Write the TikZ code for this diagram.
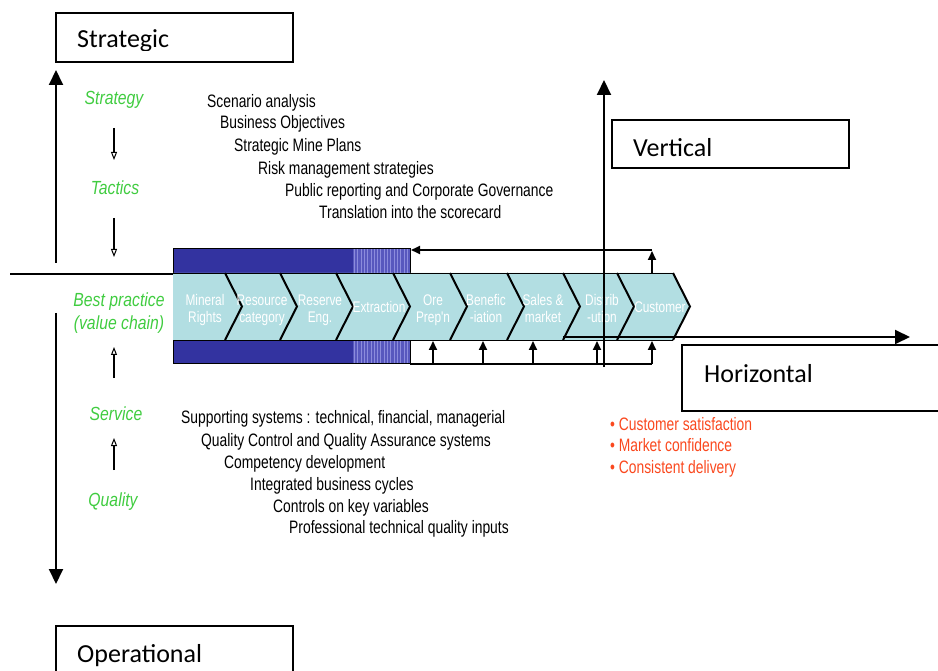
\documentclass[tikz,border=0pt]{standalone}
\usepackage{fontspec}
\setmainfont{Liberation Sans}
\newfontfamily\narrowsans[FakeStretch=0.77]{Liberation Sans}
\newfontfamily\levelsans[FakeStretch=0.83]{Liberation Sans}
\newfontfamily\boxfont{Carlito}
\usetikzlibrary{arrows.meta}

\definecolor{labelgreen}{RGB}{64,204,64}
\definecolor{outred}{RGB}{250,72,30}
\definecolor{chevfill}{RGB}{178,222,226}
\definecolor{bandblue}{RGB}{51,51,160}
\definecolor{stripeblue}{RGB}{88,88,190}
\definecolor{stripelight}{RGB}{140,140,220}

\tikzset{
  levelbox/.style={draw, line width=1.6pt},
  boxtext/.style={font=\boxfont\fontsize{26}{30}\selectfont, anchor=base west, inner sep=0pt},
  axis/.style={line width=2pt, -{Triangle[width=14pt,length=15pt]}},
  listtext/.style={font=\narrowsans\fontsize{18}{22}\selectfont, anchor=base west, inner sep=0pt},
  redtext/.style={listtext, text=outred},
  greentext/.style={font=\levelsans\itshape\fontsize{19}{22}\selectfont, text=labelgreen, anchor=base, inner sep=0pt},
  steparrow/.style={line width=2.2pt, -{Triangle[open, width=6pt, length=8pt, line width=1pt]}},
  feedback/.style={line width=1.8pt, -{Triangle[width=8pt,length=9pt]}},
  feedline/.style={line width=1.8pt},
  chevtext/.style={font=\narrowsans\fontsize{15.4}{17}\selectfont, text=white, align=center, inner sep=0pt},
}

\begin{document}
\begin{tikzpicture}[x=1pt,y=-1pt]
\useasboundingbox (0,0) rectangle (938,671);

% ---------- level boxes ----------
\draw[levelbox] (56,13) rectangle (293,62);
\begin{scope}
  \clip (57,14) rectangle (292,50.5);
  \node[boxtext] (strategic) at (77,48) {Strategic};
\end{scope}
\draw[levelbox] (56,626) rectangle (293,690);
\node[boxtext] (operational) at (77,662) {Operational};
\draw[levelbox] (612,120) rectangle (849,168);
\node[boxtext] (vertical) at (633,157) {Vertical};
\draw[levelbox] (682,345) rectangle (960,411);
\node[boxtext] (horizontal) at (704,382) {Horizontal};

% ---------- left axis ----------
\coordinate (axtopA) at (56,263);
\coordinate (axtopB) at (56,70);
\coordinate (axbotA) at (56,313);
\coordinate (axbotB) at (56,584);
\draw[axis] (axtopA) -- (axtopB);
\draw[axis] (axbotA) -- (axbotB);
\coordinate (divL) at (10,274);
\coordinate (divR) at (173,274);
\draw[line width=2pt] (divL) -- (divR);

% ---------- green levels ----------
\node[greentext] (strategy) at (114,105) {Strategy};
\node[greentext] (tactics) at (115,195) {Tactics};
\node[greentext] (best1) at (119,307) {Best practice};
\node[greentext] (best2) at (119,330) {(value chain)};
\node[greentext] (service) at (116,420) {Service};
\node[greentext] (quality) at (113,506) {Quality};

\coordinate (s1a) at (114,128); \coordinate (s1b) at (114,160);
\coordinate (s2a) at (114,218); \coordinate (s2b) at (114,257);
\coordinate (s3a) at (114,378); \coordinate (s3b) at (114,347);
\coordinate (s4a) at (114,470); \coordinate (s4b) at (114,438);
\draw[steparrow] (s1a) -- (s1b);
\draw[steparrow] (s2a) -- (s2b);
\draw[steparrow] (s3a) -- (s3b);
\draw[steparrow] (s4a) -- (s4b);

% ---------- strategic list ----------
\node[listtext] (t1) at (207,108) {Scenario analysis};
\node[listtext] (t2) at (220,129) {Business Objectives};
\node[listtext] (t3) at (234,152) {Strategic Mine Plans};
\node[listtext] (t4) at (258,175) {Risk management strategies};
\node[listtext] (t5) at (285,197) {Public reporting and Corporate Governance};
\node[listtext] (t6) at (319,219) {Translation into the scorecard};

% ---------- operational list ----------
\node[listtext] (b1) at (181,423) {Supporting systems : technical, financial, managerial};
\node[listtext] (b2) at (201,446) {Quality Control and Quality Assurance systems};
\node[listtext] (b3) at (224,468) {Competency development};
\node[listtext] (b4) at (250,490) {Integrated business cycles};
\node[listtext] (b5) at (273,512) {Controls on key variables};
\node[listtext] (b6) at (289,533) {Professional technical quality inputs};

% ---------- outcomes ----------
\node[redtext] (r1) at (610,430) {• Customer satisfaction};
\node[redtext] (r2) at (610,451) {• Market confidence};
\node[redtext] (r3) at (610,473) {• Consistent delivery};

% ---------- value chain band ----------
\fill[bandblue] (173,249) rectangle (353,273);
\fill[bandblue] (173,340) rectangle (353,364);
\fill[stripeblue] (353,249) rectangle (410,273);
\fill[stripeblue] (353,340) rectangle (410,364);
\foreach \k in {0,...,16} {
  \draw[stripelight, line width=0.9pt] ({354.5+3.3*\k},249) -- ++(0,24);
  \draw[stripelight, line width=0.9pt] ({354.5+3.3*\k},340) -- ++(0,24);
}
\draw[line width=1pt] (173,249) rectangle (410,364);

% chevrons
\def\chtop{273}\def\chbot{340}\def\chmid{306.5}\def\chd{17}
\fill[chevfill] (173,\chtop) -- (225,\chtop) -- (225+\chd,\chmid) -- (225,\chbot) -- (173,\chbot) -- cycle;
\draw[line width=0.8pt] (173,\chtop) -- (225,\chtop) (225,\chbot) -- (173,\chbot);
\foreach \s/\e in {225/280,280/336,336/393,393/450,450/507,507/563,563/617,617/673} {
  \fill[chevfill] (\s,\chtop) -- (\e,\chtop) -- (\e+\chd,\chmid) -- (\e,\chbot) -- (\s,\chbot) -- (\s+\chd,\chmid) -- cycle;
  \draw[line width=0.8pt] (\s,\chtop) -- (\e,\chtop) (\e,\chbot) -- (\s,\chbot);
}
\foreach \e in {225,280,336,393,450,507,563,617,673} {
  \draw[line width=2pt, line join=miter] (\e,\chtop) -- (\e+\chd,\chmid) -- (\e,\chbot);
}

\node[chevtext] (c1) at (205,310) {\vphantom{Ag}Mineral\\\vphantom{Ag}Rights};
\node[chevtext] (c2) at (262,310) {\vphantom{Ag}Resource\\\vphantom{Ag}category};
\node[chevtext] (c3) at (320,310) {\vphantom{Ag}Reserve\\\vphantom{Ag}Eng.};
\node[chevtext] (c4) at (379,308.5) {\vphantom{Ag}Extraction};
\node[chevtext] (c5) at (433,310) {\vphantom{Ag}Ore\\\vphantom{Ag}Prep'n};
\node[chevtext] (c6) at (486,310) {\vphantom{Ag}Benefic\\\vphantom{Ag}-iation};
\node[chevtext] (c7) at (543,310) {\vphantom{Ag}Sales \&\\\vphantom{Ag}market};
\node[chevtext] (c8) at (602,310) {\vphantom{Ag}Distrib\\\vphantom{Ag}-ution};
\node[chevtext] (c9) at (660,308.5) {\vphantom{Ag}Customer};

% ---------- feedback loops ----------
\coordinate (fbA) at (652,273);
\coordinate (fbB) at (652,251);
\coordinate (fbC) at (652,250);
\coordinate (fbD) at (411,250);
\draw[feedback] (fbA) -- (fbB);
\draw[feedback] (fbC) -- (fbD);

\coordinate (inL) at (410,364);
\coordinate (inR) at (652,364);
\draw[feedline] (inL) -- (inR);
\foreach \x in {433,483,533,597,652} {
  \coordinate (in\x) at (\x,364);
  \coordinate (up\x) at (\x,341);
  \draw[feedback] (in\x) -- (up\x);
}

% ---------- vertical and horizontal axes ----------
\coordinate (vA) at (604,367);
\coordinate (vB) at (604,80);
\draw[axis] (vA) -- (vB);
\coordinate (hA) at (563,337);
\coordinate (hB) at (910,337);
\draw[axis] (hA) -- (hB);
\end{tikzpicture}
\end{document}
